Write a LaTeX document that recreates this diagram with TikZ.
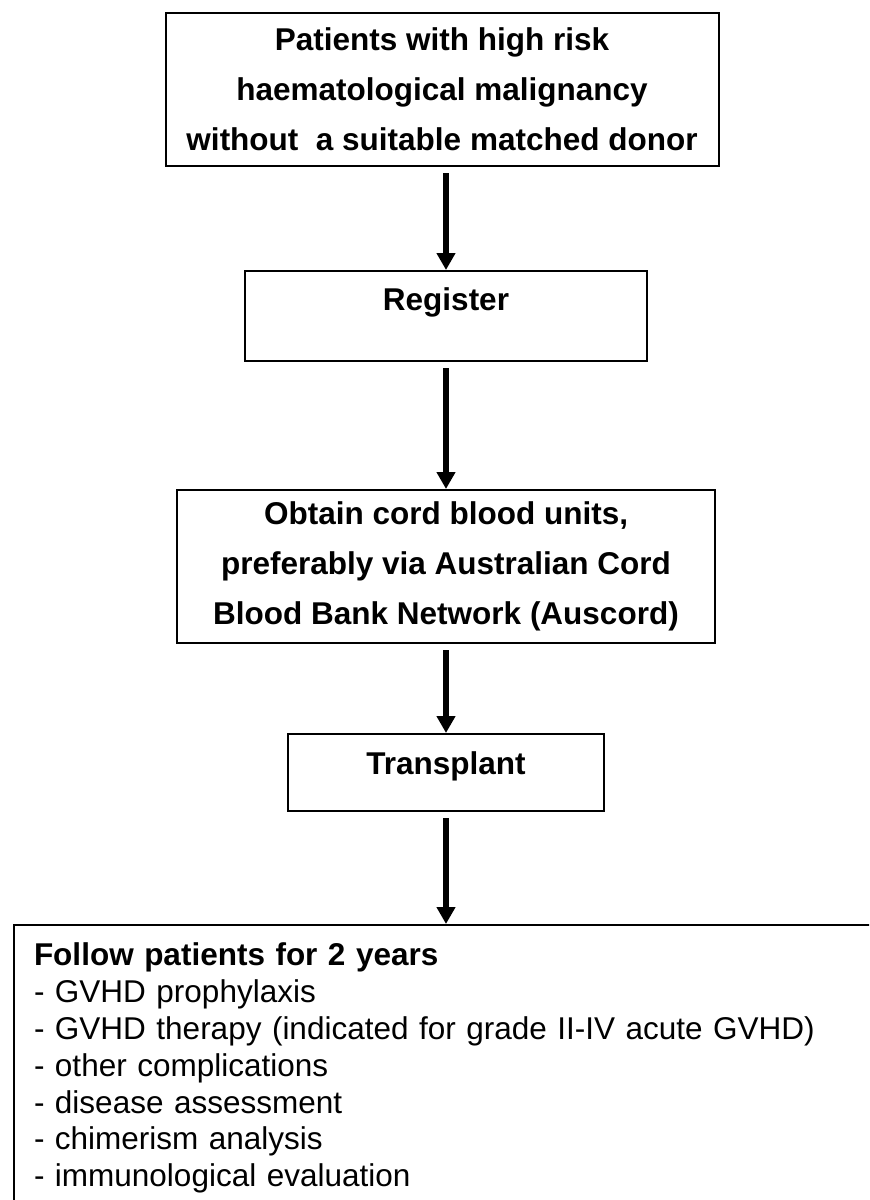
\documentclass[tikz,border=0pt]{standalone}
\usepackage{fontspec}
\setmainfont{Liberation Sans}
\usetikzlibrary{arrows.meta}

\tikzset{
	flowbox/.style = {draw, line width=1pt, align=center, inner sep=0pt,
		font=\bfseries\fontsize{15.75}{25}\selectfont},
	listbox/.style = {draw, line width=1pt, align=left, inner xsep=10pt, inner ysep=9pt,
		font=\fontsize{15.75}{18.4}\selectfont},
	flowarrow/.style = {line width=2.75pt, -{Triangle[width=9pt,length=8.5pt]}, shorten <=3pt}
}

\begin{document}
\begin{tikzpicture}[x=0.5pt, y=-0.5pt]
			\useasboundingbox (0,0) rectangle (869,1200);
			\clip (0,0) rectangle (869,1200);
			\node[flowbox, anchor=north, minimum width=276.5pt, minimum height=76.5pt] (pat) at (442,12) {Patients with high risk\\haematological malignancy\\without\ \ a suitable matched donor};
			\node[flowbox, anchor=north, minimum width=201pt, minimum height=45pt, text depth=17pt] (reg) at (446,270) {Register};
			\node[flowbox, anchor=north, minimum width=269pt, minimum height=76.5pt] (cord) at (446,489) {Obtain cord blood units,\\preferably via Australian Cord\\Blood Bank Network (Auscord)};
			\node[flowbox, anchor=north, minimum width=158pt, minimum height=38.5pt, text depth=9pt] (tx) at (446,733) {Transplant};
			\node[listbox, anchor=north west, text width=440pt, text depth=150pt] (fol) at (13,924) {\textbf{Follow patients for 2 years}\\- GVHD prophylaxis\\- GVHD therapy (indicated for grade II-IV acute GVHD)\\- other complications\\- disease assessment\\- chimerism analysis\\- immunological evaluation};
			
			\draw[flowarrow] (pat.south -| reg.north) -- (reg.north);
			\draw[flowarrow] (reg.south) -- (cord.north);
			\draw[flowarrow] (cord.south) -- (tx.north);
			\draw[flowarrow] (tx.south) -- (tx.south |- fol.north);
\end{tikzpicture}
\end{document}
